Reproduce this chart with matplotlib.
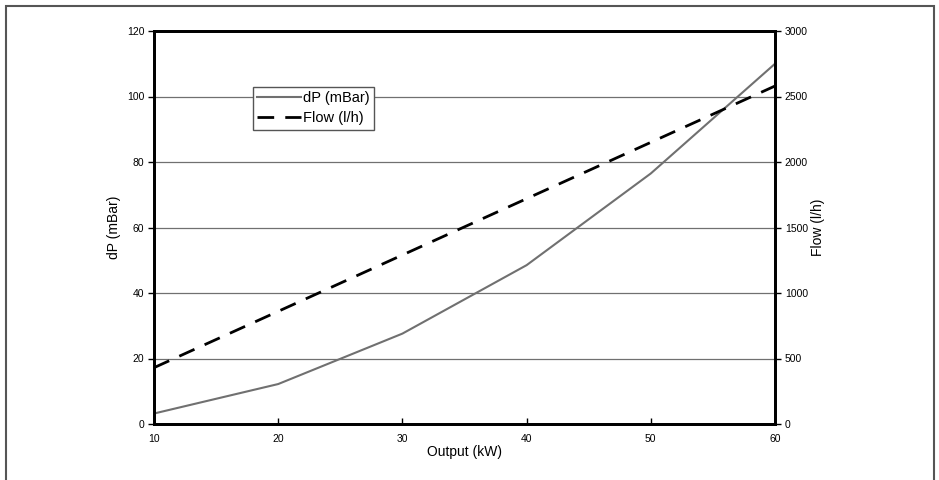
import matplotlib.pyplot as plt
from matplotlib.patches import Rectangle

plt.rcParams['font.family'] = ['Liberation Sans', 'DejaVu Sans']

output_kw = [10, 20, 30, 40, 50, 60]
dp_mbar = [3.2, 12.2, 27.6, 48.5, 76.5, 110]
flow_lh = [430, 860, 1290, 1720, 2150, 2580]

fig = plt.figure(figsize=(9.39, 4.8), dpi=100)
ax = fig.add_axes([154 / 939, 1 - 424 / 480, (775 - 154) / 939, (424 - 31) / 480])
ax2 = ax.twinx()

# outer frame, bottom edge off the canvas
fig.patches.append(Rectangle((5.5 / 939, -0.05), (934 - 5.5) / 939, 1.05 - 5.5 / 480,
                             transform=fig.transFigure, fill=False,
                             edgecolor='#555555', linewidth=1.5))

ax.set_xlim(10, 60)
ax.set_ylim(0, 120)
ax2.set_ylim(0, 3000)
ax.set_xticks(output_kw)
ax.set_yticks(range(0, 121, 20))
ax2.set_yticks(range(0, 3001, 500))

for y in range(20, 120, 20):
    ax.axhline(y, color='#707070', linewidth=0.9, zorder=0)

l1, = ax.plot(output_kw, dp_mbar, color='#707070', linewidth=1.5, label='dP (mBar)')
l2, = ax2.plot(output_kw, flow_lh, color='black', linewidth=2, dashes=(6, 4), label='Flow (l/h)')

for a in (ax, ax2):
    for s in a.spines.values():
        s.set_linewidth(2)
ax.tick_params(axis='y', direction='out', length=4, width=1, labelsize=7.5, pad=3)
ax.tick_params(axis='x', direction='in', length=4, width=1, labelsize=7.5, pad=7)
ax2.tick_params(axis='y', direction='out', length=4, width=1, labelsize=7.5, pad=3)

ax.set_xlabel('Output (kW)', fontsize=10, labelpad=1)
ax.set_ylabel('dP (mBar)', fontsize=10, labelpad=4)
ax2.set_ylabel('Flow (l/h)', fontsize=10, labelpad=2)

leg = ax2.legend([l1, l2], ['dP (mBar)', 'Flow (l/h)'], loc='upper left',
                 bbox_to_anchor=((253 - 154) / 621, (424 - 87) / 393),
                 fontsize=10.5, frameon=True, fancybox=False, framealpha=1,
                 edgecolor='#555555', handlelength=3.0, handletextpad=0.1,
                 borderpad=0.3, labelspacing=0.4, borderaxespad=0)
leg.get_frame().set_linewidth(1)

fig.savefig('out.png', dpi=100)
